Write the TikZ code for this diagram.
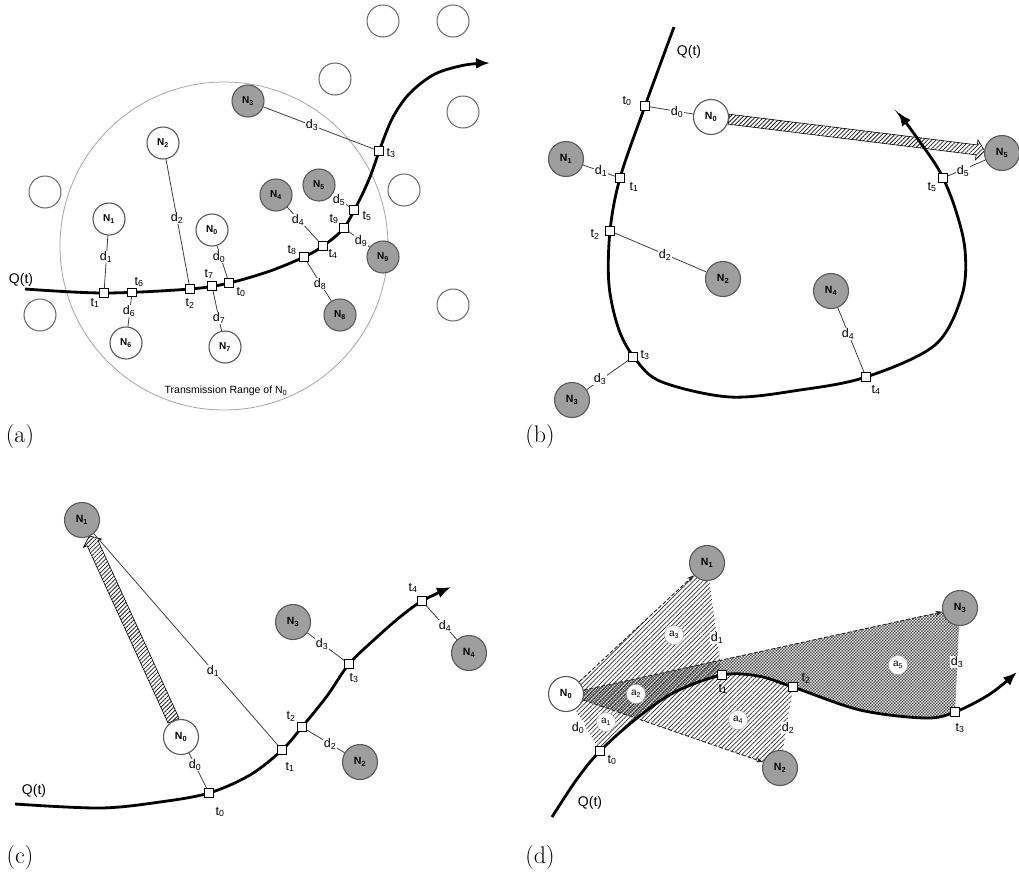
\documentclass[tikz,border=0pt]{standalone}
\usepackage{fontspec}
\newfontfamily\lsans{Liberation Sans}
\usetikzlibrary{calc,patterns,patterns.meta,arrows.meta}
\pgfdeclarelayer{bgw}
\pgfdeclarelayer{bg}
\pgfdeclarelayer{mid}
\pgfsetlayers{bgw,bg,mid,main}
\pgfdeclarepatternformonly{finechecker}{\pgfqpoint{-0.1pt}{-0.1pt}}{\pgfqpoint{3.1pt}{3.1pt}}{\pgfqpoint{3pt}{3pt}}{%
  \pgfpathrectangle{\pgfqpoint{0pt}{0pt}}{\pgfqpoint{1.5pt}{1.5pt}}%
  \pgfpathrectangle{\pgfqpoint{1.5pt}{1.5pt}}{\pgfqpoint{1.5pt}{1.5pt}}%
  \pgfusepath{fill}}
\tikzset{
  ncirc/.style={circle, draw=black!65, line width=1.1pt, fill=white, inner sep=0pt, minimum size=35pt, font=\lsans\bfseries\fontsize{10.5}{11}\selectfont},
  nsmall/.style={ncirc, minimum size=32pt, font=\lsans\bfseries\fontsize{10}{11}\selectfont},
  gfill/.style={fill=black!38},
  ecirc/.style={circle, draw=black!60, line width=1pt, fill=white, inner sep=0pt, minimum size=32pt},
  tbox/.style={rectangle, draw=black, line width=0.9pt, fill=white, inner sep=0pt, minimum size=8.5pt},
  lbl/.style={font=\lsans\fontsize{12.5}{13}\selectfont, inner sep=0.6pt},
  dlbl/.style={lbl, fill=white},
  qlbl/.style={font=\lsans\fontsize{14}{15}\selectfont, inner sep=0pt},
  conn/.style={draw=black!75, line width=0.8pt},
  traj/.style={line width=2.8pt, -{Latex[length=14pt,width=11pt]}},
  plbl/.style={font=\fontsize{24}{28}\selectfont, inner sep=0pt},
  bandst/.style={draw=black, line width=0.6pt, preaction={fill=white}, pattern={Lines[angle=45,distance=3pt,line width=0.8pt]}, pattern color=black!85},
  dasharr/.style={draw=black!85, line width=0.9pt, dash pattern=on 4pt off 2pt, -{Stealth[length=7pt,width=5pt]}},
  hatchreg/.style={pattern={Lines[angle=45,distance=3.2pt,line width=0.7pt]}, pattern color=black!80},
  checkreg/.style={pattern=finechecker, pattern color=black!70},
  alab/.style={circle, fill=white, draw=black!35, line width=0.4pt, inner sep=0pt, minimum size=19pt, font=\lsans\fontsize{10}{11}\selectfont},
}
\newcommand\hatchband[5]{%
  \path (#1) coordinate (hbA) (#2) coordinate (hbQ);
  \coordinate (hbB) at ($(hbQ)!#5!(hbA)$);
  \draw[bandst] ($(hbA)!#3!90:(hbQ)$) -- ($(hbB)!#3!90:(hbQ)$) -- ($(hbB)!#4!90:(hbQ)$) -- (hbQ) -- ($(hbB)!#4!-90:(hbQ)$) -- ($(hbB)!#3!-90:(hbQ)$) -- ($(hbA)!#3!-90:(hbQ)$) -- cycle;}
\newcommand\dcurvepath{plot[smooth,tension=0.55] coordinates {(552,817) (577,779) (600,751) (637,718) (675,692) (722,675) (758,676) (793,687) (860,710) (925,718) (955,712) (990,694) (1017,672)}}
\begin{document}
\begin{tikzpicture}[x=1pt,y=-1pt]
\useasboundingbox (0,0) rectangle (1019,881);
\begin{pgfonlayer}{bgw}
\fill[white] (0,0) rectangle (1019,881);
\end{pgfonlayer}

% ================= (a) =================
\begin{pgfonlayer}{bg}
\draw[draw=black!35, line width=0.8pt] (224,246) circle[radius=164pt];
\end{pgfonlayer}
\begin{pgfonlayer}{mid}
\draw[traj] plot[smooth,tension=0.55] coordinates {(25,289) (104,293) (190,289) (229,283) (270,271) (304,257) (323,246) (343,229) (357,205) (370,177) (381,146) (393,117) (410,93) (435,74) (465,65) (490,63)};
\end{pgfonlayer}
\node[ecirc] (ae1) at (383,21) {};
\node[ecirc] (ae2) at (453,21) {};
\node[ecirc] (ae3) at (335,79) {};
\node[ecirc] (ae4) at (463,112) {};
\node[ecirc] (ae5) at (404,190) {};
\node[ecirc] (ae6) at (45,192) {};
\node[ecirc] (ae7) at (40,315) {};
\node[ecirc] (ae8) at (453,305) {};
\node[tbox] (at1) at (104,293) {};
\node[tbox] (at6) at (132,292.5) {};
\node[tbox] (at2) at (190,289) {};
\node[tbox] (at7) at (212,286) {};
\node[tbox] (at0) at (229,283) {};
\node[tbox] (at8) at (304,257) {};
\node[tbox] (at4) at (323,246) {};
\node[tbox] (at9) at (344,228) {};
\node[tbox] (at5) at (354,210) {};
\node[tbox] (at3) at (379,151) {};
\node[nsmall] (aN0) at (212,230) {N\textsubscript{0}};
\node[nsmall] (aN1) at (109,219) {N\textsubscript{1}};
\node[nsmall] (aN2) at (163,143) {N\textsubscript{2}};
\node[nsmall,gfill] (aN3) at (248,101) {N\textsubscript{3}};
\node[nsmall,gfill] (aN4) at (276,195) {N\textsubscript{4}};
\node[nsmall,gfill] (aN5) at (319,185) {N\textsubscript{5}};
\node[nsmall] (aN6) at (126,343) {N\textsubscript{6}};
\node[nsmall] (aN7) at (225,347) {N\textsubscript{7}};
\node[nsmall,gfill] (aN8) at (340,315) {N\textsubscript{8}};
\node[nsmall,gfill] (aN9) at (383,257) {N\textsubscript{9}};
\draw[conn] (aN0) -- (at0);
\draw[conn] (aN1) -- (at1);
\draw[conn] (aN2) -- (at2);
\draw[conn] (aN3) -- (at3);
\draw[conn] (aN4) -- (at4);
\draw[conn] (aN5) -- (at5);
\draw[conn] (aN6) -- (at6);
\draw[conn] (aN7) -- (at7);
\draw[conn] (aN8) -- (at8);
\draw[conn] (aN9) -- (at9);
\node[dlbl] (ad0) at (219,257) {d\textsubscript{0}};
\node[dlbl] (ad1) at (106,257) {d\textsubscript{1}};
\node[dlbl] (ad2) at (177,218) {d\textsubscript{2}};
\node[dlbl] (ad3) at (312,125) {d\textsubscript{3}};
\node[dlbl] (ad4) at (298,220) {d\textsubscript{4}};
\node[dlbl] (ad5) at (339,200) {d\textsubscript{5}};
\node[dlbl] (ad6) at (129,311) {d\textsubscript{6}};
\node[dlbl] (ad7) at (219,318) {d\textsubscript{7}};
\node[dlbl] (ad8) at (320,284) {d\textsubscript{8}};
\node[dlbl] (ad9) at (361,241) {d\textsubscript{9}};
\node[lbl] (alt0) at (241,292) {t\textsubscript{0}};
\node[lbl] (alt1) at (95,303) {t\textsubscript{1}};
\node[lbl] (alt2) at (190,303) {t\textsubscript{2}};
\node[lbl] (alt3) at (391,153) {t\textsubscript{3}};
\node[lbl] (alt4) at (333,254) {t\textsubscript{4}};
\node[lbl] (alt5) at (367,216) {t\textsubscript{5}};
\node[lbl] (alt6) at (139,282) {t\textsubscript{6}};
\node[lbl] (alt7) at (209,274) {t\textsubscript{7}};
\node[lbl] (alt8) at (292,250) {t\textsubscript{8}};
\node[lbl] (alt9) at (334,219) {t\textsubscript{9}};
\node[qlbl] (aQ) at (21,280) {Q(t)};
\node[font=\lsans\fontsize{10.5}{12}\selectfont] (arange) at (226,391) {Transmission Range of N\textsubscript{0}};
\node[plbl] (pa) at (20,437) {(a)};

% ================= (b) =================
\node[tbox] (bt0) at (645,106) {};
\node[tbox] (bt1) at (620,178) {};
\node[tbox] (bt2) at (610,231) {};
\node[tbox] (bt3) at (633,357) {};
\node[tbox] (bt4) at (866,377) {};
\node[tbox] (bt5) at (943,178) {};
\node[ncirc] (bN0) at (711,117) {N\textsubscript{0}};
\node[ncirc,gfill] (bN1) at (566,159) {N\textsubscript{1}};
\node[ncirc,gfill] (bN2) at (723,279) {N\textsubscript{2}};
\node[ncirc,gfill] (bN3) at (572,400) {N\textsubscript{3}};
\node[ncirc,gfill] (bN4) at (831,291) {N\textsubscript{4}};
\node[ncirc,gfill] (bN5) at (1002,153) {N\textsubscript{5}};
\begin{pgfonlayer}{bg}
\hatchband{$(bN0)!18pt!(bN5)$}{$(bN5)!17.5pt!(bN0)$}{5pt}{10pt}{8pt}
\end{pgfonlayer}
\begin{pgfonlayer}{mid}
\draw[traj] plot[smooth,tension=0.55] coordinates {(674,27) (645,106) (620,178) (610,231) (609,285) (619,330) (636,360) (662,382) (730,397) (800,390) (866,377) (935,345) (962,295) (965,250) (955,208) (940,172) (920,142) (898,112)};
\end{pgfonlayer}
\draw[conn] (bN0) -- (bt0);
\draw[conn] (bN1) -- (bt1);
\draw[conn] (bN2) -- (bt2);
\draw[conn] (bN3) -- (bt3);
\draw[conn] (bN4) -- (bt4);
\draw[conn] (bN5) -- (bt5);
\node[dlbl] (bd0) at (677,112) {d\textsubscript{0}};
\node[dlbl] (bd1) at (601,171) {d\textsubscript{1}};
\node[dlbl] (bd2) at (665,255) {d\textsubscript{2}};
\node[dlbl] (bd3) at (600,379) {d\textsubscript{3}};
\node[dlbl] (bd4) at (848,334) {d\textsubscript{4}};
\node[dlbl] (bd5) at (963,171) {d\textsubscript{5}};
\node[lbl] (blt0) at (627,101) {t\textsubscript{0}};
\node[lbl] (blt1) at (634,187) {t\textsubscript{1}};
\node[lbl] (blt2) at (595,234) {t\textsubscript{2}};
\node[lbl] (blt3) at (645,355) {t\textsubscript{3}};
\node[lbl] (blt4) at (876,390) {t\textsubscript{4}};
\node[lbl] (blt5) at (932,187) {t\textsubscript{5}};
\node[qlbl] (bQ) at (689,52) {Q(t)};
\node[plbl] (pb) at (540,437) {(b)};

% ================= (c) =================
\node[tbox] (ct0) at (209,793) {};
\node[tbox] (ct1) at (282,750) {};
\node[tbox] (ct2) at (302,727) {};
\node[tbox] (ct3) at (349,664) {};
\node[tbox] (ct4) at (422,601) {};
\node[ncirc] (cN0) at (181,737) {N\textsubscript{0}};
\node[ncirc,gfill] (cN1) at (82,520) {N\textsubscript{1}};
\node[ncirc,gfill] (cN2) at (360,762) {N\textsubscript{2}};
\node[ncirc,gfill] (cN3) at (293,622) {N\textsubscript{3}};
\node[ncirc,gfill] (cN4) at (469,653) {N\textsubscript{4}};
\begin{pgfonlayer}{bg}
\hatchband{$(cN0)!18pt!(cN1)$}{$(cN1)!17.5pt!(cN0)$}{6pt}{10pt}{8pt}
\end{pgfonlayer}
\begin{pgfonlayer}{mid}
\draw[traj] plot[smooth,tension=0.55] coordinates {(15,804) (100,808) (160,802) (209,793) (250,775) (282,750) (302,727) (327,696) (349,664) (376,638) (400,617) (422,601) (451,587)};
\end{pgfonlayer}
\draw[conn] (cN0) -- (ct0);
\draw[conn] (cN1) -- (ct1);
\draw[conn] (cN2) -- (ct2);
\draw[conn] (cN3) -- (ct3);
\draw[conn] (cN4) -- (ct4);
\node[dlbl] (cd0) at (195,765) {d\textsubscript{0}};
\node[dlbl] (cd1) at (213,671) {d\textsubscript{1}};
\node[dlbl] (cd2) at (330,744) {d\textsubscript{2}};
\node[dlbl] (cd3) at (322,644) {d\textsubscript{3}};
\node[dlbl] (cd4) at (445,626) {d\textsubscript{4}};
\node[lbl] (clt0) at (220,812) {t\textsubscript{0}};
\node[lbl] (clt1) at (290,767) {t\textsubscript{1}};
\node[lbl] (clt2) at (291,716) {t\textsubscript{2}};
\node[lbl] (clt3) at (354,678) {t\textsubscript{3}};
\node[lbl] (clt4) at (413,588) {t\textsubscript{4}};
\node[qlbl] (cQ) at (34,791) {Q(t)};
\node[plbl] (pc) at (20,857) {(c)};

% ================= (d) =================
\node[tbox] (dt0) at (600,751) {};
\node[tbox] (dt1) at (722,675) {};
\node[tbox] (dt2) at (793,687) {};
\node[tbox] (dt3) at (955,712) {};
\node[ncirc] (dN0) at (566,694) {N\textsubscript{0}};
\node[ncirc,gfill] (dN1) at (707,563) {N\textsubscript{1}};
\node[ncirc,gfill] (dN2) at (780,768) {N\textsubscript{2}};
\node[ncirc,gfill] (dN3) at (960,608) {N\textsubscript{3}};
\begin{pgfonlayer}{bg}
\begin{scope}
  \clip \dcurvepath -- (1017,450) -- (530,450) -- (530,817) -- cycle;
  \fill[checkreg] (dN0.center) -- (dN3.center) -- ($(dN3)!1.3!(dt3)$) -- (dN2.center) -- cycle;
  \fill[hatchreg] (dN0.center) -- (dN1.center) -- (dt1.center) -- ($(dN0)!0.6!(dN2)$) -- cycle;
  \fill[hatchreg] (dN0.center) -- (dt0.center) -- (650,765) -- ($(dN0)!0.45!(dN2)$) -- cycle;
\end{scope}
\begin{scope}
  \clip \dcurvepath -- (1017,881) -- (530,881) -- cycle;
  \fill[hatchreg] (dN0.center) -- ($(dN2)!1.5!(dt2)$) -- (dN2.center) -- cycle;
\end{scope}
\end{pgfonlayer}
\begin{pgfonlayer}{mid}
\draw[traj] \dcurvepath;
\end{pgfonlayer}
\draw[dasharr] (dN0) -- (dN1);
\draw[dasharr] (dN0) -- (dN2);
\draw[dasharr] (dN0) -- (dN3);
\node[dlbl] (dd0) at (578,728) {d\textsubscript{0}};
\node[dlbl] (dd1) at (717,638) {d\textsubscript{1}};
\node[dlbl] (dd2) at (788,728) {d\textsubscript{2}};
\node[dlbl] (dd3) at (957,662) {d\textsubscript{3}};
\node[lbl] (dlt0) at (612,760) {t\textsubscript{0}};
\node[lbl] (dlt1) at (723,689) {t\textsubscript{1}};
\node[lbl] (dlt2) at (806,678) {t\textsubscript{2}};
\node[lbl] (dlt3) at (960,728) {t\textsubscript{3}};
\node[alab] (da1) at (606,722) {a\textsubscript{1}};
\node[alab] (da2) at (636,694) {a\textsubscript{2}};
\node[alab] (da3) at (674,635) {a\textsubscript{3}};
\node[alab] (da4) at (738,720) {a\textsubscript{4}};
\node[alab] (da5) at (898,665) {a\textsubscript{5}};
\node[qlbl] (dQ) at (590,803) {Q(t)};
\node[plbl] (pd) at (540,857) {(d)};
\end{tikzpicture}
\end{document}
